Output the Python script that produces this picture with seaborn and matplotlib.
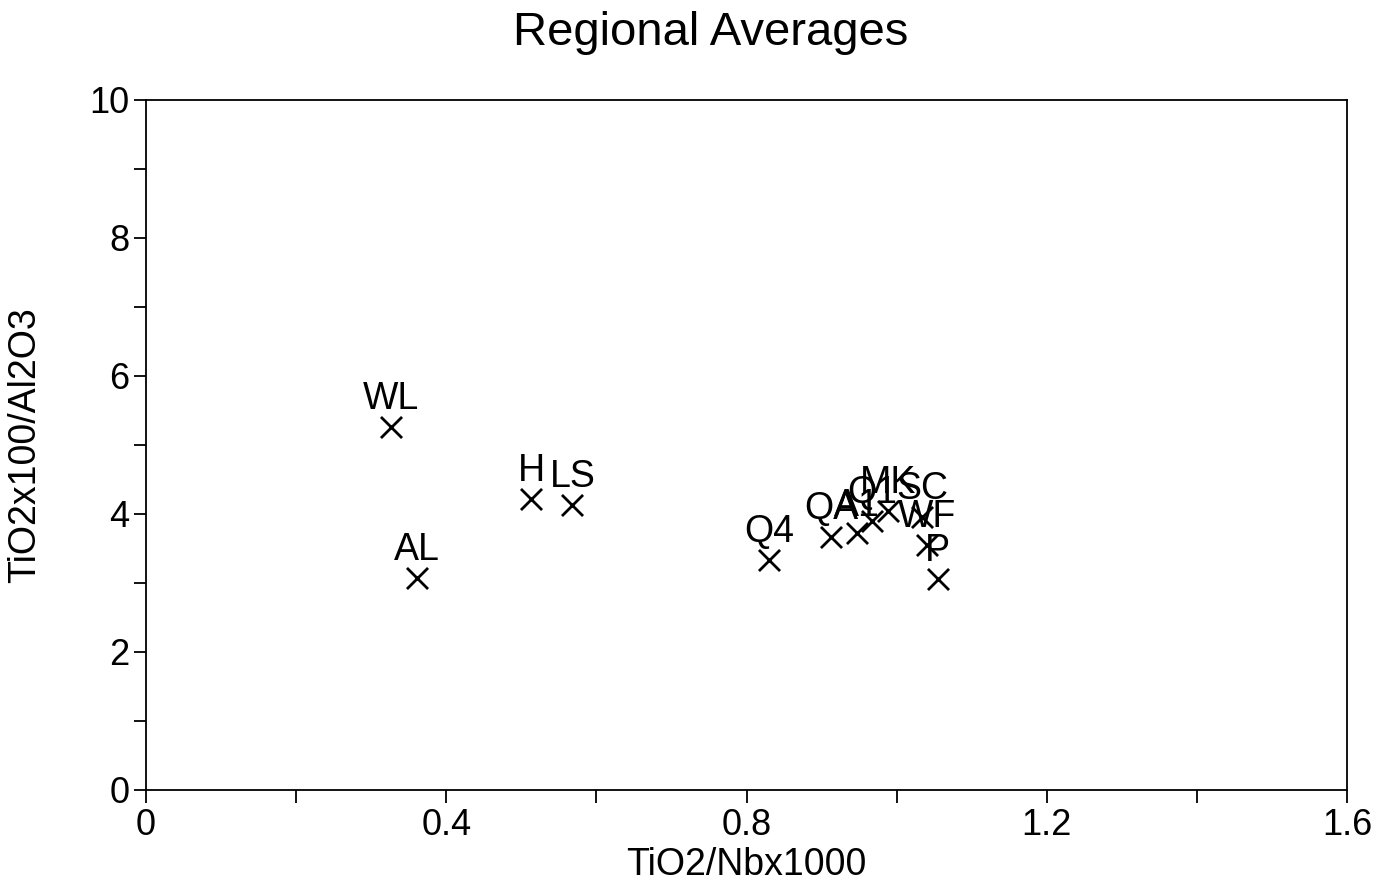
import numpy as np
import pandas as pd
import matplotlib
matplotlib.use("Agg")
import matplotlib.pyplot as plt
from matplotlib.ticker import MultipleLocator, FuncFormatter
import seaborn as sns

# Regional averages
regions = ["WL", "AL", "H", "LS", "Q4", "QA", "A1", "Q1", "MK", "SC", "WF", "P"]
tio2_nb = [0.326, 0.361, 0.513, 0.568, 0.830, 0.913, 0.947, 0.967, 0.989, 1.034, 1.040, 1.055]
tio2_al = [5.26, 3.07, 4.22, 4.13, 3.33, 3.67, 3.72, 3.90, 4.04, 3.96, 3.55, 3.06]

data = pd.DataFrame({"region": regions, "x": tio2_nb, "y": tio2_al})

sns.set_style("white")
plt.rcParams["font.family"] = ["Liberation Sans", "DejaVu Sans"]
plt.rcParams["text.color"] = "black"

fig = plt.figure(figsize=(13.8, 8.88), dpi=100)
ax = fig.add_axes([0.1058, 0.1104, 0.8703, 0.777])

sns.scatterplot(x="x", y="y", data=data, marker="x", color="black",
                s=230, linewidth=2, ax=ax, legend=False)

# label above each marker
for name, xv, yv in zip(regions, tio2_nb, tio2_al):
    ax.annotate(name, (xv, yv), xytext=(0, 7), textcoords="offset points",
                ha="center", va="bottom", fontsize=27, color="black")

ax.set_xlim(0, 1.6)
ax.set_ylim(0, 10)
ax.xaxis.set_major_locator(MultipleLocator(0.4))
ax.xaxis.set_minor_locator(MultipleLocator(0.2))
ax.yaxis.set_major_locator(MultipleLocator(2))
ax.yaxis.set_minor_locator(MultipleLocator(1))
ax.xaxis.set_major_formatter(FuncFormatter(lambda v, p: f"{v:g}"))

ax.tick_params(axis="both", which="both", direction="out", length=9, width=1.3,
               color="black", labelcolor="black", labelsize=26,
               bottom=True, left=True, top=False, right=False)
ax.tick_params(axis="x", which="major", pad=4)
ax.tick_params(axis="y", which="major", pad=3)
for sp in ax.spines.values():
    sp.set_color("black")
    sp.set_linewidth(1.3)

ax.set_xlabel("TiO2/Nbx1000", fontsize=27, color="black")
ax.set_ylabel("TiO2x100/Al2O3", fontsize=27, color="black")
ax.xaxis.set_label_coords(0.5, -0.082)
ax.yaxis.set_label_coords(-0.086, 0.5)
fig.text(0.515, 0.963, "Regional Averages", fontsize=34, ha="center", va="center")

fig.savefig("out.png", dpi=100, facecolor="white")
